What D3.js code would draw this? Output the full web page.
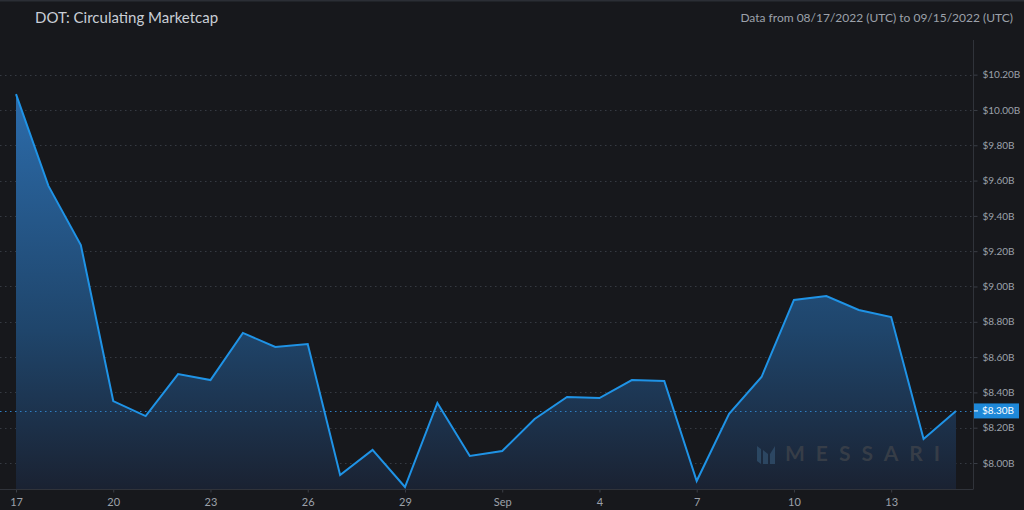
<!DOCTYPE html>
<html>
<head>
<meta charset="utf-8">
<script src="https://cdn.jsdelivr.net/npm/d3@7"></script>
<style>
  html, body { margin: 0; padding: 0; background: #17181c; }
  svg { display: block; }
  text { font-family: "Lato", "Open Sans", sans-serif; }
</style>
</head>
<body>
<script>
// daily circulating marketcap, billions USD, 08/17 .. 09/15 2022
var startDate = "2022-08-17";
var marketcap = [
  10.09, 9.57, 9.235, 8.351, 8.266, 8.504, 8.47, 8.737, 8.657, 8.674,
  7.932, 8.074, 7.864, 8.34, 8.04, 8.068, 8.249, 8.374, 8.368, 8.47,
  8.465, 7.898, 8.278, 8.487, 8.924, 8.946, 8.867, 8.827, 8.136, 8.295
];
var yTicks = [8.0, 8.2, 8.4, 8.6, 8.8, 9.0, 9.2, 9.4, 9.6, 9.8, 10.0, 10.2];
var xTickDates = ["2022-08-17", "2022-08-20", "2022-08-23", "2022-08-26", "2022-08-29",
                  "2022-09-01", "2022-09-04", "2022-09-07", "2022-09-10", "2022-09-13"];
var xTickLabels = ["17", "20", "23", "26", "29", "Sep", "4", "7", "10", "13"];
var lastLabel = "$8.30B";

var W = 1024, H = 510;
var svg = d3.select("body").append("svg")
  .attr("width", W)
  .attr("height", H);

svg.append("rect").attr("width", W).attr("height", H).attr("fill", "#17181c");
svg.append("rect").attr("width", W).attr("height", 1.5).attr("fill", "#2b2e35");

// header
svg.append("text")
  .attr("x", 35).attr("y", 23)
  .attr("fill", "#c9ced6")
  .attr("font-size", 15)
  .text("DOT: Circulating Marketcap");
svg.append("text")
  .attr("x", 1013).attr("y", 22)
  .attr("text-anchor", "end")
  .attr("fill", "#9ca1aa")
  .attr("font-size", 12)
  .text("Data from 08/17/2022 (UTC) to 09/15/2022 (UTC)");

var parse = d3.utcParse("%Y-%m-%d");
var t0 = parse(startDate);
var data = marketcap.map(function (v, i) {
  return { date: d3.utcDay.offset(t0, i), value: v };
});

var plotLeft = 0, plotRight = 973, plotTop = 45, plotBottom = 489;

var x = d3.scaleUtc()
  .domain([t0, data[data.length - 1].date])
  .range([16, 956]);
var y = d3.scaleLinear()
  .domain([7.8527, 10.368])
  .range([plotBottom, plotTop]);

// dotted grid
var grid = svg.append("g");
grid.selectAll("line").data(yTicks).enter().append("line")
  .attr("x1", plotLeft).attr("x2", plotRight)
  .attr("y1", function (d) { return Math.round(y(d)) + 0.5; })
  .attr("y2", function (d) { return Math.round(y(d)) + 0.5; })
  .attr("stroke", "#363a42")
  .attr("stroke-dasharray", "1.5,3.5");

// gradient area
var defs = svg.append("defs");
var grad = defs.append("linearGradient")
  .attr("id", "areaGrad")
  .attr("gradientUnits", "userSpaceOnUse")
  .attr("x1", 0).attr("x2", 0)
  .attr("y1", y(10.1)).attr("y2", plotBottom);
grad.append("stop").attr("offset", "0%").attr("stop-color", "#2c6cab");
grad.append("stop").attr("offset", "60%").attr("stop-color", "#1f456b");
grad.append("stop").attr("offset", "100%").attr("stop-color", "#1a2232");

var area = d3.area()
  .x(function (d) { return x(d.date); })
  .y0(plotBottom)
  .y1(function (d) { return y(d.value); });
svg.append("path")
  .datum(data)
  .attr("d", area)
  .attr("fill", "url(#areaGrad)");

// watermark
var wm = svg.append("g").attr("opacity", 0.9);
wm.append("text")
  .attr("x", 785).attr("y", 461)
  .attr("fill", "#3a4049")
  .attr("font-size", 21)
  .attr("font-weight", "bold")
  .attr("letter-spacing", 11)
  .text("MESSARI");
wm.append("path")
  .attr("d", "M757,446 L761,449 L761,464 L757,461 Z M763,450 L768,454 L768,464 L763,464 Z M770,454 L775,446 L775,464 L770,464 Z")
  .attr("fill", "#2e4a66");

// last value dotted line
var lastY = Math.round(y(marketcap[marketcap.length - 1])) + 0.5;
svg.append("line")
  .attr("x1", plotLeft).attr("x2", plotRight)
  .attr("y1", lastY).attr("y2", lastY)
  .attr("stroke", "#2f7fc4")
  .attr("stroke-dasharray", "1.5,3.5");

// line
var line = d3.line()
  .x(function (d) { return x(d.date); })
  .y(function (d) { return y(d.value); });
svg.append("path")
  .datum(data)
  .attr("d", line)
  .attr("fill", "none")
  .attr("stroke", "#1f93e6")
  .attr("stroke-width", 2)
  .attr("stroke-linejoin", "miter");

// right axis
var yAxis = d3.axisRight(y)
  .tickValues(yTicks)
  .tickSize(4)
  .tickPadding(5)
  .tickFormat(function (d) { return "$" + d.toFixed(2) + "B"; });
var ya = svg.append("g")
  .attr("transform", "translate(" + (plotRight + 0.5) + ",0)")
  .call(yAxis);
ya.select(".domain").remove();
ya.selectAll("line").attr("stroke", "#3a3e46");
ya.selectAll("text")
  .attr("fill", "#9ca1aa")
  .attr("font-size", 10)
  .attr("font-family", "'DejaVu Sans Condensed', 'Liberation Sans Narrow', sans-serif");

svg.append("line")
  .attr("x1", plotRight + 0.5).attr("x2", plotRight + 0.5)
  .attr("y1", 40).attr("y2", plotBottom)
  .attr("stroke", "#30333a");

// bottom axis
var xAxis = d3.axisBottom(x)
  .tickValues(xTickDates.map(parse))
  .tickSize(3)
  .tickPadding(6)
  .tickFormat(function (d, i) { return xTickLabels[i]; });
var xa = svg.append("g")
  .attr("transform", "translate(0," + (plotBottom + 0.5) + ")")
  .call(xAxis);
xa.select(".domain").remove();
xa.selectAll("line").attr("stroke", "#3a3e46");
xa.selectAll("text")
  .attr("fill", "#9ca1aa")
  .attr("font-size", 11);

svg.append("line")
  .attr("x1", 0).attr("x2", plotRight + 0.5)
  .attr("y1", plotBottom + 0.5).attr("y2", plotBottom + 0.5)
  .attr("stroke", "#30333a");

// last value badge
var ly = y(marketcap[marketcap.length - 1]);
svg.append("rect")
  .attr("x", plotRight + 1).attr("y", ly - 7.5)
  .attr("width", 45).attr("height", 15)
  .attr("fill", "#1e88d8");
svg.append("line")
  .attr("x1", plotRight + 1).attr("x2", plotRight + 5)
  .attr("y1", ly).attr("y2", ly)
  .attr("stroke", "#ffffff");
svg.append("text")
  .attr("x", plotRight + 9).attr("y", ly + 3.5)
  .attr("fill", "#ffffff")
  .attr("font-size", 10)
  .attr("font-family", "'DejaVu Sans Condensed', 'Liberation Sans Narrow', sans-serif")
  .text(lastLabel);
</script>
</body>
</html>
